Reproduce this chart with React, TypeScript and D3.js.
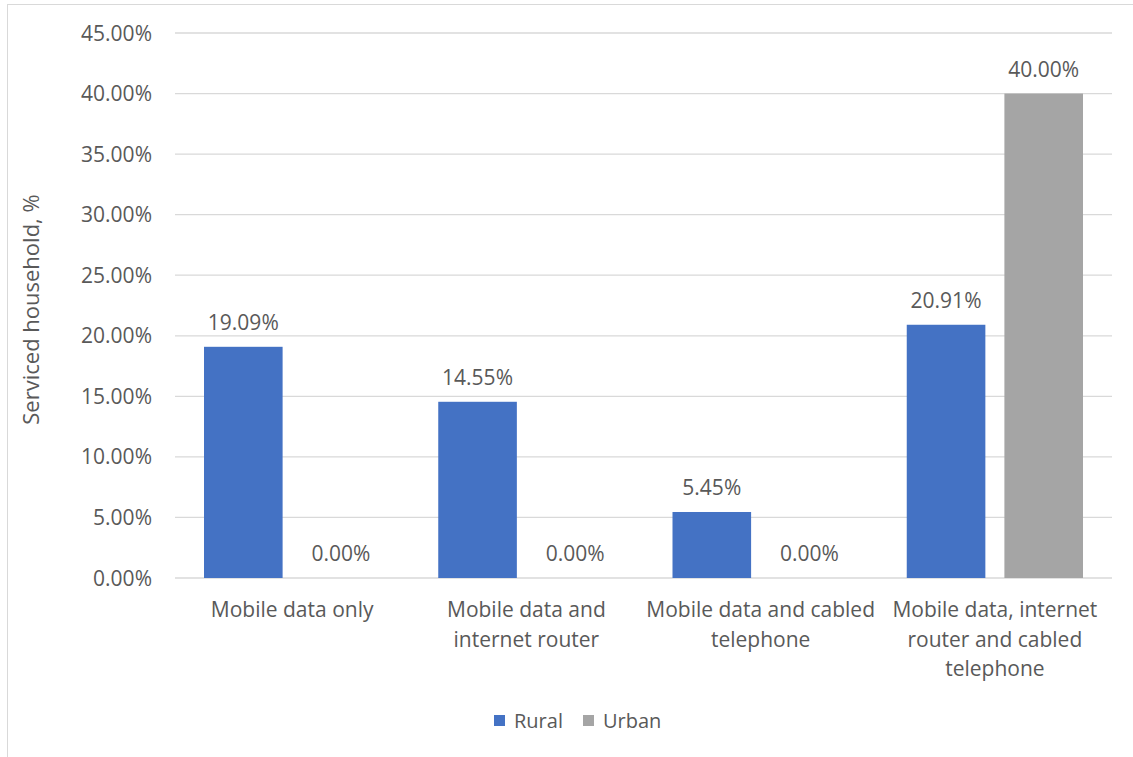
import React from "react";
import * as d3 from "d3";

const categories = [
  ["Mobile data only"],
  ["Mobile data and", "internet router"],
  ["Mobile data and cabled", "telephone"],
  ["Mobile data, internet", "router and cabled", "telephone"],
];
const seriesNames = ["Rural", "Urban"];
const rural = [19.09, 14.55, 5.45, 20.91];
const urban = [0.0, 0.0, 0.0, 40.0];
const yTicks = [0, 5, 10, 15, 20, 25, 30, 35, 40, 45];
const colors = ["#4472C4", "#A5A5A5"];

const W = 1133;
const H = 757;
const left = 175;
const right = 1112;
const top = 33;
const bottom = 578;
const font = "'Open Sans', 'Noto Sans', sans-serif";
const textColor = "#595959";

export default function App() {
  const x0 = d3
    .scaleBand<number>()
    .domain(d3.range(categories.length))
    .range([left, right])
    .paddingInner(0)
    .paddingOuter(0);
  const bw = x0.bandwidth();
  const x1 = d3
    .scaleBand<number>()
    .domain([0, 1])
    .range([29, bw - 29])
    .paddingInner(0.195)
    .paddingOuter(0);
  const y = d3.scaleLinear().domain([0, 45]).range([bottom, top]);
  const series = [rural, urban];

  return (
    <svg
      width={W}
      height={H}
      style={{ position: "absolute", left: 0, top: 0, background: "#fff" }}
      fontFamily={font}
    >
      <rect x={7.5} y={4.5} width={1140} height={770} fill="#fff" stroke="#D9D9D9" strokeWidth={1} />
      {yTicks.map((t) => (
        <g key={t}>
          <line x1={left} x2={right} y1={y(t)} y2={y(t)} stroke="#D9D9D9" strokeWidth={1.3} />
          <text x={152} y={y(t)} dy="0.36em" textAnchor="end" fontSize={21} fill={textColor}>
            {t.toFixed(2)}%
          </text>
        </g>
      ))}
      {series.map((vals, si) =>
        vals.map((v, ci) => {
          const bx = (x0(ci) as number) + (x1(si) as number);
          const w = x1.bandwidth();
          return (
            <g key={`${si}-${ci}`}>
              <rect x={bx} y={y(v)} width={w} height={bottom - y(v)} fill={colors[si]} />
              <text
                x={bx + w / 2}
                y={y(v) - 17}
                textAnchor="middle"
                fontSize={21}
                fill={textColor}
              >
                {v.toFixed(2)}%
              </text>
            </g>
          );
        })
      )}
      {categories.map((lines, ci) => (
        <text
          key={ci}
          x={(x0(ci) as number) + bw / 2}
          y={617}
          textAnchor="middle"
          fontSize={21}
          fill={textColor}
        >
          {lines.map((l, li) => (
            <tspan key={li} x={(x0(ci) as number) + bw / 2} dy={li === 0 ? 0 : 29.5}>
              {l}
            </tspan>
          ))}
        </text>
      ))}
      <text
        transform={`translate(39, ${(top + bottom) / 2 + 4}) rotate(-90)`}
        textAnchor="middle"
        fontSize={22}
        fill={textColor}
      >
        Serviced household, %
      </text>
      <g>
        {seriesNames.map((n, i) => {
          const lx = i === 0 ? 494 : 583;
          return (
            <g key={n}>
              <rect x={lx} y={715} width={11} height={11} fill={colors[i]} />
              <text x={lx + 20} y={728} fontSize={20} fill={textColor}>
                {n}
              </text>
            </g>
          );
        })}
      </g>
    </svg>
  );
}
